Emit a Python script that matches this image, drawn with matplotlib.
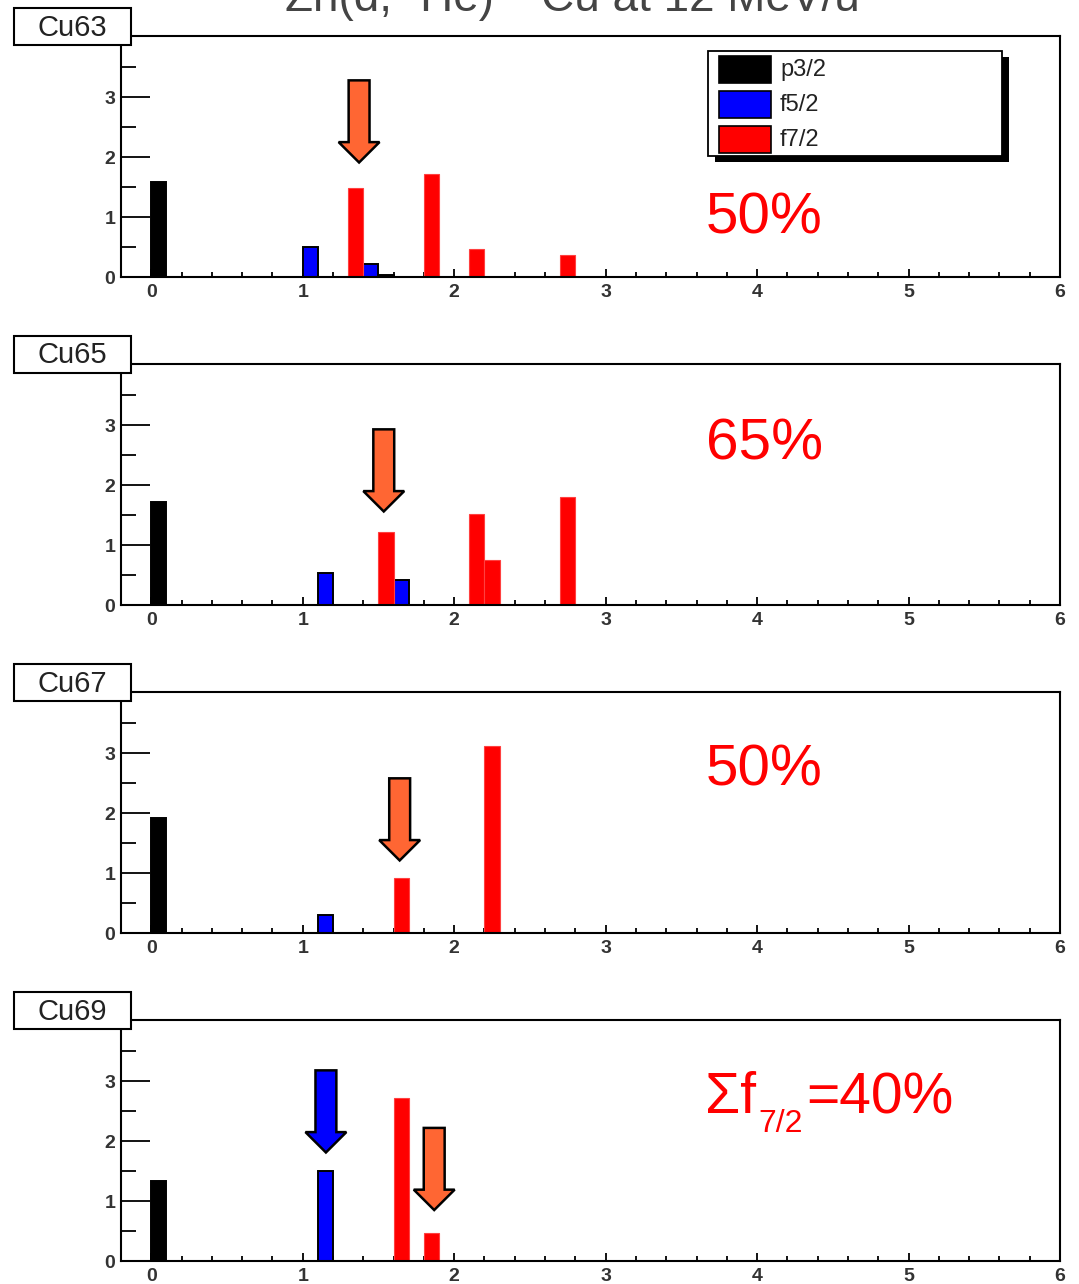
import matplotlib
matplotlib.use("Agg")
import matplotlib.pyplot as plt
from matplotlib.patches import Rectangle, Polygon
from matplotlib.ticker import MultipleLocator, FixedLocator

plt.rcParams['font.family'] = ['Liberation Sans', 'DejaVu Sans']

# ---------------- data ----------------
nuclei = ['Cu63', 'Cu65', 'Cu67', 'Cu69']
series = ['p3/2', 'f5/2', 'f7/2']
colors = ['#000000', '#0000FF', '#FF0000']
bin_width = 0.1

# lower bin edges (MeV) and strengths
cu63_p32_E = [0.0, 1.5];            cu63_p32_S = [1.59, 0.03]
cu63_f52_E = [1.0, 1.4];            cu63_f52_S = [0.50, 0.21]
cu63_f72_E = [1.3, 1.8, 2.1, 2.7];  cu63_f72_S = [1.49, 1.71, 0.47, 0.37]

cu65_p32_E = [0.0];                 cu65_p32_S = [1.71]
cu65_f52_E = [1.1, 1.6];            cu65_f52_S = [0.54, 0.41]
cu65_f72_E = [1.5, 2.1, 2.2, 2.7];  cu65_f72_S = [1.22, 1.51, 0.75, 1.80]

cu67_p32_E = [0.0];                 cu67_p32_S = [1.91]
cu67_f52_E = [1.1];                 cu67_f52_S = [0.30]
cu67_f72_E = [1.6, 2.2];            cu67_f72_S = [0.92, 3.12]

cu69_p32_E = [0.0];                 cu69_p32_S = [1.33]
cu69_f52_E = [1.1];                 cu69_f52_S = [1.50]
cu69_f72_E = [1.6, 1.8];            cu69_f72_S = [2.72, 0.46]

percent_labels = ['50%', '65%', '50%', None]

# arrow tips (x, y) in data units, and fill colours
arrow_tips = [[(1.372, 1.91)], [(1.535, 1.56)], [(1.64, 1.21)],
              [(1.153, 1.81), (1.868, 0.85)]]
arrow_cols = [['#FF6633'], ['#FF6633'], ['#FF6633'], ['#0000FF', '#FF6633']]

panel_data = [
    [(cu63_p32_E, cu63_p32_S), (cu63_f52_E, cu63_f52_S), (cu63_f72_E, cu63_f72_S)],
    [(cu65_p32_E, cu65_p32_S), (cu65_f52_E, cu65_f52_S), (cu65_f72_E, cu65_f72_S)],
    [(cu67_p32_E, cu67_p32_S), (cu67_f52_E, cu67_f52_S), (cu67_f72_E, cu67_f72_S)],
    [(cu69_p32_E, cu69_p32_S), (cu69_f52_E, cu69_f52_S), (cu69_f72_E, cu69_f72_S)],
]

# ---------------- layout ----------------
W, H = 1079, 1284
fig = plt.figure(figsize=(W / 100, H / 100), dpi=100)

def fx(x):
    return x / W

def fy(y):
    return 1 - y / H

ax_left, ax_right = 121, 1060
ax_tops = [36, 364, 692, 1020]
pct_baselines = [234, 460, 786]
ax_h = 241
tick_col = '#333333'

for i, name in enumerate(nuclei):
    top = ax_tops[i]
    ax = fig.add_axes([fx(ax_left), fy(top + ax_h), fx(ax_right - ax_left), ax_h / H])
    ax.set_xlim(-0.2, 6.0)
    ax.set_ylim(0, 4.02)
    for j, (E, S) in enumerate(panel_data[i]):
        if colors[j] == '#FF0000':
            ax.bar(E, S, width=bin_width, align='edge', color=colors[j],
                   edgecolor='#FF4040', linewidth=0.8, zorder=2)
        else:
            ax.bar(E, S, width=bin_width, align='edge', color=colors[j],
                   edgecolor='black', linewidth=1.4, zorder=2)
    # arrows
    for (tx, ty), c in zip(arrow_tips[i], arrow_cols[i]):
        bw, hw, hl, L = 0.069, 0.135, 0.34, 1.37
        pts = [(tx, ty), (tx - hw, ty + hl), (tx - bw, ty + hl), (tx - bw, ty + L),
               (tx + bw, ty + L), (tx + bw, ty + hl), (tx + hw, ty + hl)]
        ax.add_patch(Polygon(pts, closed=True, facecolor=c, edgecolor='black',
                             linewidth=1.8, joinstyle='miter', zorder=5, clip_on=False))
    for sp in ax.spines.values():
        sp.set_linewidth(1.5)
        sp.set_color('black')
    ax.xaxis.set_major_locator(FixedLocator([0, 1, 2, 3, 4, 5, 6]))
    ax.xaxis.set_minor_locator(MultipleLocator(0.2))
    ax.yaxis.set_major_locator(FixedLocator([0, 1, 2, 3]))
    ax.yaxis.set_minor_locator(FixedLocator([0.5, 1.5, 2.5, 3.5]))
    ax.tick_params(axis='x', which='major', direction='in', length=5.5, width=1.3,
                   pad=5, labelsize=14, labelcolor=tick_col, top=False)
    ax.tick_params(axis='x', which='minor', direction='in', length=3.8, width=1.3, top=False)
    ax.tick_params(axis='y', which='major', direction='in', length=21, width=1.3,
                   pad=4, labelsize=14, labelcolor=tick_col, right=False)
    ax.tick_params(axis='y', which='minor', direction='in', length=11, width=1.3, right=False)
    for lab in ax.get_xticklabels() + ax.get_yticklabels():
        lab.set_fontweight('bold')

    # panel label box
    bx0, bx1 = 14, 131
    by0, by1 = top - 28, top + 9
    fig.patches.append(Rectangle((fx(bx0), fy(by1)), fx(bx1 - bx0), (by1 - by0) / H,
                                 transform=fig.transFigure, facecolor='white',
                                 edgecolor='black', linewidth=1.5, zorder=10))
    fig.text(fx((bx0 + bx1) / 2), fy((by0 + by1) / 2 + 1), name, ha='center', va='center',
             fontsize=21, color='#222222', zorder=11)

    # percentage text
    if percent_labels[i] is not None:
        fig.text(fx(706), fy(pct_baselines[i]), percent_labels[i], fontsize=42, color='red',
                 va='baseline', ha='left', zorder=11)

# sum f7/2 text in last panel
fig.text(fx(705), fy(1113), 'Σf', fontsize=41, color='red', va='baseline', ha='left')
fig.text(fx(758), fy(1132), '7/2', fontsize=23, color='red', va='baseline', ha='left')
fig.text(fx(806), fy(1113), '=40%', fontsize=41, color='red', va='baseline', ha='left')

# legend (first panel)
lx0, lx1, ly0, ly1 = 708, 1002, 51, 156
fig.patches.append(Rectangle((fx(lx0 + 7), fy(ly1 + 6)), fx(lx1 - lx0), (ly1 - ly0) / H,
                             transform=fig.transFigure, facecolor='black',
                             edgecolor='black', linewidth=0, zorder=10))
fig.patches.append(Rectangle((fx(lx0), fy(ly1)), fx(lx1 - lx0), (ly1 - ly0) / H,
                             transform=fig.transFigure, facecolor='white',
                             edgecolor='black', linewidth=1.3, zorder=11))
sw_tops = [56, 91, 126]
for k, s in enumerate(series):
    fig.patches.append(Rectangle((fx(719), fy(sw_tops[k] + 27)), fx(52), 27 / H,
                                 transform=fig.transFigure, facecolor=colors[k],
                                 edgecolor='black', linewidth=1.2, zorder=12))
    fig.text(fx(780), fy(sw_tops[k] + 14), s, fontsize=17, color='#222222',
             va='center', ha='left', zorder=12)

# title (cut off at the top edge, as in the original slide)
fig.text(fx(572), fy(11), 'Zn(d, ³He) ⁶³Cu at 12 MeV/u', fontsize=33, color='#444444',
         ha='center', va='baseline')

fig.savefig('out.png', dpi=100)
